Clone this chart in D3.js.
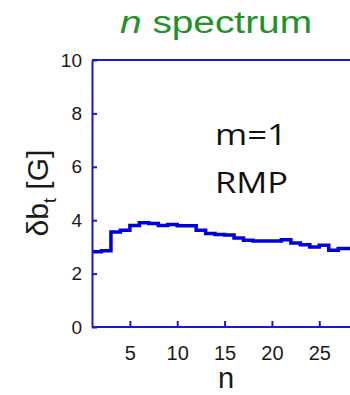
<!DOCTYPE html>
<html><head><meta charset="utf-8">
<script src="https://cdn.jsdelivr.net/npm/d3@7/dist/d3.min.js"></script>
<style>body{margin:0;background:#fff;}svg{display:block;}</style>
</head><body>
<script>
const nValues = [1,2,3,4,5,6,7,8,9,10,11,12,13,14,15,16,17,18,19,20,21,22,23,24,25,26,27,28];
const dbValues = [2.82,2.86,3.56,3.62,3.80,3.90,3.88,3.80,3.84,3.79,3.79,3.62,3.50,3.46,3.45,3.33,3.25,3.22,3.22,3.22,3.27,3.15,3.08,3.00,3.06,2.87,2.94,2.94];
const xTicks = [5,10,15,20,25];
const yTicks = [0,2,4,6,8,10];

const W = 350, H = 395;
const svg = d3.select("body").append("svg").attr("width", W).attr("height", H);
const x = d3.scaleLinear().domain([1, 29]).range([92, 92 + 28 * 9.47]);
const y = d3.scaleLinear().domain([0, 10]).range([327, 60]);
const axisColor = "#1a1acc";

// step data
const stepPts = [];
nValues.forEach((n, i) => { stepPts.push([n, dbValues[i]]); stepPts.push([n + 1, dbValues[i]]); });
const line = d3.line().x(d => x(d[0])).y(d => y(d[1]));
svg.append("path").datum(stepPts).attr("d", line)
  .attr("fill", "none").attr("stroke", "#0000dd").attr("stroke-width", 3.5);

// frame
svg.append("line").attr("x1", x(1)).attr("x2", W + 10).attr("y1", y(10)).attr("y2", y(10))
  .attr("stroke", axisColor).attr("stroke-width", 2);

const yAxis = d3.axisLeft(y).tickValues(yTicks).tickSizeInner(-5).tickSizeOuter(0).tickPadding(10);
const gy = svg.append("g").attr("transform", `translate(${x(1)},0)`).call(yAxis);
gy.select(".domain").attr("stroke", axisColor).attr("stroke-width", 2);
gy.selectAll(".tick line").attr("stroke", axisColor).attr("stroke-width", 2);
gy.selectAll(".tick text").attr("font-family", "Liberation Sans, Arial, sans-serif")
  .attr("font-size", 19).attr("fill", "#1a1a1a");

const xAxis = d3.axisBottom(x).tickValues(xTicks).tickSizeInner(-6).tickSizeOuter(0).tickPadding(19);
const gx = svg.append("g").attr("transform", `translate(0,${y(0)})`).call(xAxis);
gx.select(".domain").attr("stroke", axisColor).attr("stroke-width", 2).attr("d", `M${x(1)},0H${W + 10}`);
gx.selectAll(".tick line").attr("stroke", axisColor).attr("stroke-width", 2);
gx.selectAll(".tick text").attr("font-family", "Liberation Sans, Arial, sans-serif")
  .attr("font-size", 20).attr("fill", "#1a1a1a");

// title
const title = svg.append("text").attr("x", 120).attr("y", 33)
  .attr("font-family", "Liberation Sans, Arial, sans-serif").attr("font-size", 31).attr("fill", "#24902a")
  .attr("textLength", 192).attr("lengthAdjust", "spacingAndGlyphs");
title.append("tspan").attr("font-style", "italic").text("n");
title.append("tspan").text(" spectrum");

// annotations
svg.append("text").attr("x", 215).attr("y", 145).attr("font-family", "Open Sans, Liberation Sans, sans-serif")
  .attr("font-size", 30).attr("fill", "#111").attr("textLength", 72).attr("lengthAdjust", "spacingAndGlyphs").text("m=1");
svg.append("text").attr("x", 215).attr("y", 193).attr("font-family", "Open Sans, Liberation Sans, sans-serif")
  .attr("font-size", 30).attr("fill", "#111").attr("textLength", 73).attr("lengthAdjust", "spacingAndGlyphs").text("RMP");

// y label
const yl = svg.append("text").attr("transform", "translate(48,193) rotate(-90)").attr("text-anchor", "middle")
  .attr("font-family", "Liberation Sans, Arial, sans-serif").attr("font-size", 30).attr("fill", "#1a1a1a");
yl.append("tspan").text("δb");
yl.append("tspan").attr("font-size", 18).attr("dy", 8).text("t");
yl.append("tspan").attr("dy", -8).text(" [G]");

// x label
svg.append("text").attr("x", 226).attr("y", 388).attr("text-anchor", "middle")
  .attr("font-family", "Liberation Sans, Arial, sans-serif").attr("font-size", 29).attr("fill", "#1a1a1a").text("n");
</script>
</body></html>
